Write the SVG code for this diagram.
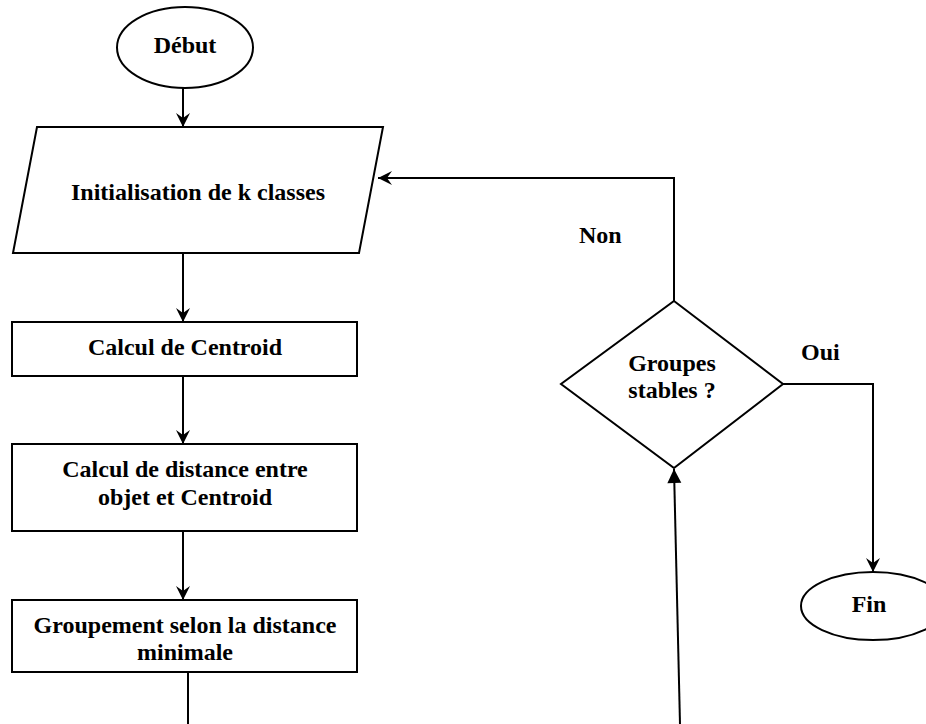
<svg xmlns="http://www.w3.org/2000/svg" width="926" height="724" viewBox="0 0 926 724">
  <style>
    .shape { fill: #ffffff; stroke: #000000; stroke-width: 2; }
    .label { font-family: "Liberation Serif", "Times New Roman", serif; font-weight: bold; font-size: 24px; fill: #000000; }
    .mid { text-anchor: middle; }
    .wire { fill: none; stroke: #000000; stroke-width: 2; }
  </style>
  <defs>
    <!-- notched arrowhead used on the flow lines -->
    <marker id="barb" markerUnits="userSpaceOnUse" markerWidth="14" markerHeight="14" refX="14" refY="7" orient="auto" overflow="visible">
      <path d="M0,0 L14,7 L0,14 L5,7 Z" fill="#000000"/>
    </marker>
    <!-- plain solid triangle -->
    <marker id="tri" markerUnits="userSpaceOnUse" markerWidth="14" markerHeight="14" refX="14" refY="7" orient="auto" overflow="visible">
      <path d="M0,0 L14,7 L0,14 Z" fill="#000000"/>
    </marker>
  </defs>

  <rect width="926" height="724" fill="#ffffff"/>

  <g id="connectors">
    <path class="wire" d="M183,88 L183,127" marker-end="url(#barb)"/>
    <path class="wire" d="M183,253 L183,322" marker-end="url(#barb)"/>
    <path class="wire" d="M183,376 L183,444" marker-end="url(#barb)"/>
    <path class="wire" d="M183,531 L183,600" marker-end="url(#barb)"/>
    <path class="wire" d="M188,673 L188,724"/>
    <path class="wire" d="M680,724 L674,469" marker-end="url(#tri)"/>
    <path class="wire" d="M674,301 L674,178 L378,178" marker-end="url(#barb)"/>
    <path class="wire" d="M783,384 L873,384 L873,572" marker-end="url(#barb)"/>
    <text class="label" x="579" y="243">Non</text>
    <text class="label" x="801" y="360">Oui</text>
  </g>

  <g id="debut">
    <ellipse class="shape" cx="185" cy="47.5" rx="68" ry="40.5"/>
    <text class="label mid" x="185" y="53">Début</text>
  </g>

  <g id="init">
    <polygon class="shape" points="37,127 383,127 359,253 13,253"/>
    <text class="label mid" x="198" y="200">Initialisation de k classes</text>
  </g>

  <g id="centroid">
    <rect class="shape" x="12" y="322" width="345" height="54"/>
    <text class="label mid" x="185" y="355">Calcul de Centroid</text>
  </g>

  <g id="distance">
    <rect class="shape" x="12" y="444" width="345" height="87"/>
    <text class="label mid" x="185" y="477">Calcul de distance entre</text>
    <text class="label mid" x="185" y="505">objet et Centroid</text>
  </g>

  <g id="groupement">
    <rect class="shape" x="12" y="600" width="345" height="72"/>
    <text class="label mid" x="185" y="633">Groupement selon la distance</text>
    <text class="label mid" x="185" y="660">minimale</text>
  </g>

  <g id="decision">
    <polygon class="shape" points="674,301 783,384 674,468 561,384"/>
    <text class="label mid" x="672" y="371">Groupes</text>
    <text class="label mid" x="672" y="398">stables ?</text>
  </g>

  <g id="fin">
    <ellipse class="shape" cx="873" cy="606" rx="72" ry="34"/>
    <text class="label mid" x="869" y="612">Fin</text>
  </g>
</svg>
